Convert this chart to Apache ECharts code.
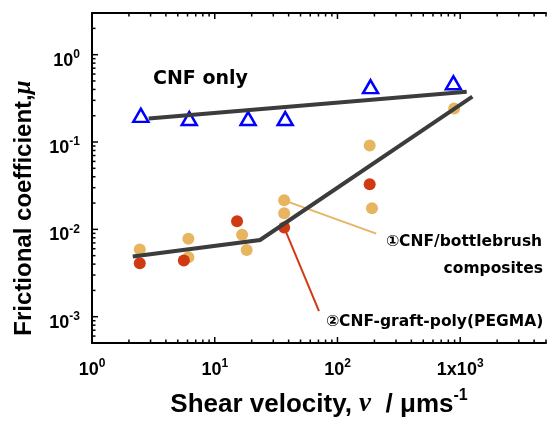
<!DOCTYPE html>
<html>
<head>
<meta charset="utf-8">
<script src="https://cdn.jsdelivr.net/npm/echarts@6/dist/echarts.min.js"></script>
<style>
  html, body { margin: 0; padding: 0; background: #fff; }
  #chart { width: 549px; height: 423px; }
</style>
</head>
<body>
<div id="chart"></div>
<script>
// Shear velocity (µm/s) vs frictional coefficient, log–log.

// CNF only: hollow blue triangles
const cnfVelocity = [2.5, 6.2, 18.7, 37.5, 186, 880];
const cnfMu = [0.202, 0.186, 0.186, 0.186, 0.43, 0.477];

// (1) CNF/bottlebrush composites
const brushVelocity = [2.45, 6.1, 6.1, 16.7, 18.2, 36.8, 36.8, 191, 183, 893];
const brushMu = [0.0059, 0.0078, 0.0048, 0.0087, 0.0058, 0.0215, 0.0153, 0.0175, 0.091, 0.242];

// (2) CNF-graft-poly(PEGMA)
const graftVelocity = [2.45, 5.6, 15.2, 36.8, 183];
const graftMu = [0.0041, 0.0044, 0.0124, 0.0105, 0.0328];

// Fitted trend lines
const cnfFitVelocity = [2.9, 1130];
const cnfFitMu = [0.186, 0.377];
const compFitVelocity = [2.15, 23.4, 23.4, 1256];
const compFitMu = [0.0049, 0.00755, 0.0074, 0.331];

// Leader lines from a data point to its caption
const brushLeaderVelocity = [36.8, 207];
const brushLeaderMu = [0.0215, 0.00894];
const graftLeaderVelocity = [36.8, 70.7];
const graftLeaderMu = [0.0105, 0.00116];

// Axes
const xMin = 1, xMax = 5000;
const yMin = 5e-4, yMax = 3;
const xLabelValues = [1, 10, 100, 1000];
const xLabelBase = ['10', '10', '10', '1x10'];
const xLabelExp = ['0', '1', '2', '3'];
const yLabelValues = [0.001, 0.01, 0.1, 1];
const yLabelBase = ['10', '10', '10', '10'];
const yLabelExp = ['-3', '-2', '-1', '0'];

const zip = (a, b) => a.map((v, i) => [v, b[i]]);

// major & minor tick positions (decade multiples) inside the axis ranges
function logTicks(min, max) {
  const out = [];
  for (let e = Math.floor(Math.log10(min)); e <= Math.ceil(Math.log10(max)); e++) {
    for (let m = 1; m <= 9; m++) {
      const v = m * Math.pow(10, e);
      if (v >= min * 0.9999 && v <= max * 1.0001) out.push([v, m === 1 ? 1 : 0]);
    }
  }
  return out;
}
const xTicks = logTicks(xMin, xMax);
const yTicks = logTicks(yMin, yMax);

function labelFor(values, bases, exps) {
  return function (v) {
    for (let i = 0; i < values.length; i++) {
      if (Math.abs(Math.log10(v) - Math.log10(values[i])) < 1e-6) {
        return '{b|' + bases[i] + '}{s|' + exps[i] + '}';
      }
    }
    return '';
  };
}

const sans = 'Liberation Sans';
const labelRich = {
  b: { fontFamily: sans, fontWeight: 'bold', fontSize: 18, color: '#000', lineHeight: 22, verticalAlign: 'bottom' },
  s: { fontFamily: sans, fontWeight: 'bold', fontSize: 12, color: '#000', lineHeight: 22, verticalAlign: 'bottom', padding: [0, 0, 9, 0] }
};

const AXIS_W = 2;
const black = '#000';
const captionFont = '"DejaVu Sans", "Noto Sans CJK JP"';

function tickSeries(ticks, dir) {
  // dir 'x': ticks on the bottom and top frame; 'y': ticks on the left axis
  return {
    type: 'custom',
    silent: true,
    z: 10,
    data: ticks,
    renderItem: function (params, api) {
      const v = api.value(0);
      const major = api.value(1) === 1;
      const len = major ? 6 : 3.5;
      const children = [];
      if (dir === 'x') {
        const pb = api.coord([v, yMin]);
        const pt = api.coord([v, yMax]);
        children.push({ type: 'line', shape: { x1: pb[0], y1: pb[1], x2: pb[0], y2: pb[1] - len }, style: { stroke: black, lineWidth: 1.5 } });
        children.push({ type: 'line', shape: { x1: pt[0], y1: pt[1], x2: pt[0], y2: pt[1] + len }, style: { stroke: black, lineWidth: 1.5 } });
      } else {
        const p = api.coord([xMin, v]);
        children.push({ type: 'line', shape: { x1: p[0], y1: p[1], x2: p[0] + len, y2: p[1] }, style: { stroke: black, lineWidth: 1.5 } });
      }
      return { type: 'group', children: children };
    }
  };
}

const chart = echarts.init(document.getElementById('chart'), null, { renderer: 'canvas' });

const option = {
  backgroundColor: '#fff',
  animation: false,
  grid: { left: 92, right: 0, top: 13, bottom: 68, containLabel: false },
  xAxis: [{
    type: 'log', logBase: 10, min: xMin, max: xMax, position: 'bottom',
    axisLine: { show: true, lineStyle: { color: black, width: AXIS_W } },
    axisTick: { show: false },
    splitLine: { show: false },
    axisLabel: { margin: 14, formatter: labelFor(xLabelValues, xLabelBase, xLabelExp), rich: labelRich, showMinLabel: true, showMaxLabel: true },
    name: '{t|Shear velocity, }{g|ν}{t|  / μms}{s|-1}',
    nameLocation: 'middle', nameGap: 45,
    nameTextStyle: {
      rich: {
        t: { fontFamily: sans, fontWeight: 'bold', fontSize: 26, color: black, lineHeight: 30, verticalAlign: 'bottom' },
        g: { fontFamily: 'Liberation Serif', fontStyle: 'italic', fontWeight: 'bold', fontSize: 27, color: black, lineHeight: 30, verticalAlign: 'bottom' },
        s: { fontFamily: sans, fontWeight: 'bold', fontSize: 16, color: black, lineHeight: 30, verticalAlign: 'bottom', padding: [0, 0, 14, 0] }
      }
    }
  }, {
    type: 'log', logBase: 10, min: xMin, max: xMax, position: 'top',
    axisLine: { show: true, lineStyle: { color: black, width: AXIS_W } },
    axisTick: { show: false }, axisLabel: { show: false }, splitLine: { show: false }
  }],
  yAxis: [{
    type: 'log', logBase: 10, min: yMin, max: yMax,
    axisLine: { show: true, lineStyle: { color: black, width: AXIS_W } },
    axisTick: { show: false },
    splitLine: { show: false },
    axisLabel: { margin: 12, padding: [8, 0, 0, 0], formatter: labelFor(yLabelValues, yLabelBase, yLabelExp), rich: labelRich },
    name: '{t|Frictional coefficient,}{g|μ}',
    nameLocation: 'middle', nameGap: 54, nameRotate: 90,
    nameTextStyle: {
      padding: [0, 60, 0, 0],
      rich: {
        t: { fontFamily: sans, fontWeight: 'bold', fontSize: 24, color: black, lineHeight: 28 },
        g: { fontFamily: 'Liberation Serif', fontStyle: 'italic', fontWeight: 'bold', fontSize: 25, color: black, lineHeight: 28 }
      }
    }
  }],
  series: [
    tickSeries(xTicks, 'x'),
    tickSeries(yTicks, 'y'),
    {
      type: 'line', data: zip(brushLeaderVelocity, brushLeaderMu), symbol: 'none', z: 2,
      lineStyle: { color: '#E7B560', width: 2 }, silent: true
    },
    {
      type: 'line', data: zip(graftLeaderVelocity, graftLeaderMu), symbol: 'none', z: 2,
      lineStyle: { color: '#D03A12', width: 2 }, silent: true
    },
    {
      name: 'CNF/bottlebrush composites', type: 'scatter', z: 3,
      data: zip(brushVelocity, brushMu), symbol: 'circle', symbolSize: 12,
      itemStyle: { color: '#E7B560', opacity: 1 }
    },
    {
      name: 'CNF-graft-poly(PEGMA)', type: 'scatter', z: 4,
      data: zip(graftVelocity, graftMu), symbol: 'circle', symbolSize: 12,
      itemStyle: { color: '#D03A12', opacity: 1 }
    },
    {
      name: 'CNF only', type: 'scatter', z: 4,
      data: zip(cnfVelocity, cnfMu), symbol: 'triangle', symbolSize: [15, 13],
      itemStyle: { color: 'rgba(0,0,0,0)', borderColor: '#0000FF', borderWidth: 2.5, opacity: 1 }
    },
    {
      type: 'line', data: zip(cnfFitVelocity, cnfFitMu), symbol: 'none', z: 5,
      lineStyle: { color: '#3C3C3C', width: 4 }, silent: true
    },
    {
      type: 'line', data: zip(compFitVelocity, compFitMu), symbol: 'none', z: 5,
      lineStyle: { color: '#3C3C3C', width: 4, join: 'miter' }, silent: true
    }
  ],
  graphic: [
    { type: 'text', left: 153, top: 70, z: 20, style: { text: 'CNF only', fontFamily: 'DejaVu Sans', fontWeight: 'bold', fontSize: 19, fill: black } },
    { type: 'text', left: 386, top: 234, z: 20, style: { text: '①CNF/bottlebrush', fontFamily: captionFont, fontWeight: 'bold', fontSize: 15.5, fill: black } },
    { type: 'text', right: 6, top: 261, z: 20, style: { text: 'composites', fontFamily: captionFont, fontWeight: 'bold', fontSize: 15.5, fill: black } },
    { type: 'text', left: 326, top: 314, z: 20, style: { text: '②CNF-graft-poly(PEGMA)', fontFamily: captionFont, fontWeight: 'bold', fontSize: 15.5, fill: black } }
  ]
};

chart.setOption(option);
</script>
</body>
</html>
